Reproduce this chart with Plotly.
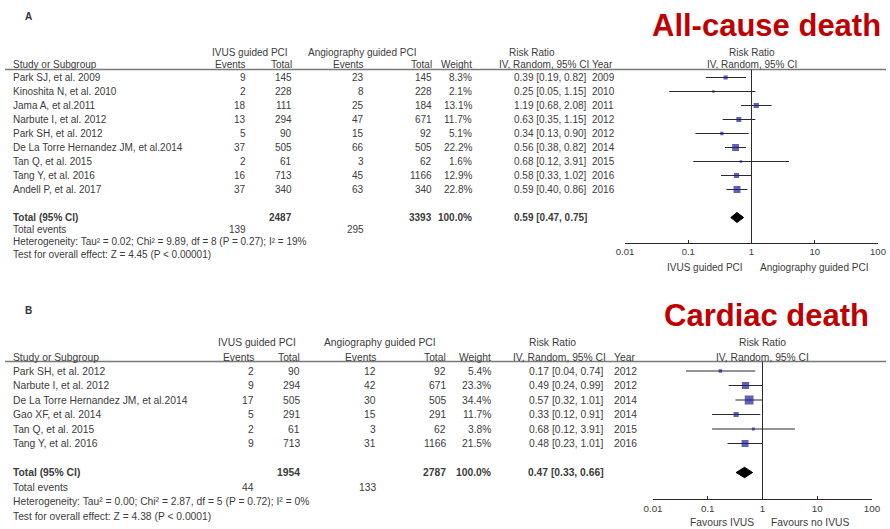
import plotly.graph_objects as go

W, H = 890, 529
FONT = "Liberation Sans, Arial, sans-serif"
TXT = "#3c3c3c"

# ---------------- Panel A: all-cause death ----------------
a_studies = ["Park SJ, et al. 2009", "Kinoshita N, et al. 2010", "Jama A, et al.2011",
             "Narbute I, et al. 2012", "Park SH, et al. 2012",
             "De La Torre Hernandez JM, et al.2014", "Tan Q, et al. 2015",
             "Tang Y, et al. 2016", "Andell P, et al. 2017"]
a_ivus_events = [9, 2, 18, 13, 5, 37, 2, 16, 37]
a_ivus_total = [145, 228, 111, 294, 90, 505, 61, 713, 340]
a_angio_events = [23, 8, 25, 47, 15, 66, 3, 45, 63]
a_angio_total = [145, 228, 184, 671, 92, 505, 62, 1166, 340]
a_weight = [8.3, 2.1, 13.1, 11.7, 5.1, 22.2, 1.6, 12.9, 22.8]
a_rr = [0.39, 0.25, 1.19, 0.63, 0.34, 0.56, 0.68, 0.58, 0.59]
a_lo = [0.19, 0.05, 0.68, 0.35, 0.13, 0.38, 0.12, 0.33, 0.40]
a_hi = [0.82, 1.15, 2.08, 1.15, 0.90, 0.82, 3.91, 1.02, 0.86]
a_year = [2009, 2010, 2011, 2012, 2012, 2014, 2015, 2016, 2016]
a_pooled = [0.59, 0.47, 0.75]
a_het = "Heterogeneity: Tau² = 0.02; Chi² = 9.89, df = 8 (P = 0.27); I² = 19%"
a_test = "Test for overall effect: Z = 4.45 (P < 0.00001)"

# ---------------- Panel B: cardiac death ----------------
b_studies = ["Park SH, et al. 2012", "Narbute I, et al. 2012",
             "De La Torre Hernandez JM, et al.2014", "Gao XF, et al. 2014",
             "Tan Q, et al. 2015", "Tang Y, et al. 2016"]
b_ivus_events = [2, 9, 17, 5, 2, 9]
b_ivus_total = [90, 294, 505, 291, 61, 713]
b_angio_events = [12, 42, 30, 15, 3, 31]
b_angio_total = [92, 671, 505, 291, 62, 1166]
b_weight = [5.4, 23.3, 34.4, 11.7, 3.8, 21.5]
b_rr = [0.17, 0.49, 0.57, 0.33, 0.68, 0.48]
b_lo = [0.04, 0.24, 0.32, 0.12, 0.12, 0.23]
b_hi = [0.74, 0.99, 1.01, 0.91, 3.91, 1.01]
b_year = [2012, 2012, 2014, 2014, 2015, 2016]
b_pooled = [0.47, 0.33, 0.66]
b_het = "Heterogeneity: Tau² = 0.00; Chi² = 2.87, df = 5 (P = 0.72); I² = 0%"
b_test = "Test for overall effect: Z = 4.38 (P < 0.0001)"

tick_vals = [0.01, 0.1, 1, 10, 100]
tick_text = ["0.01", "0.1", "1", "10", "100"]

panels = [
    dict(tag="A", title="All-cause death", title_pos=(882, 25), tag_pos=(28, 17),
         studies=a_studies, ie=a_ivus_events, it=a_ivus_total, ae=a_angio_events,
         at=a_angio_total, w=a_weight, rr=a_rr, lo=a_lo, hi=a_hi, year=a_year,
         pooled=a_pooled, het=a_het, test=a_test,
         left_lab="IVUS guided PCI", right_lab="Angiography guided PCI",
         first=77.5, pitch=14.0, hdr1=52, hdr2=64.5, rule=69.5, axis_y=242.5,
         foot=[229.5, 242, 254.5], lab_y=267, px0=625, px1=878, fs=10,
         cols=dict(study=12, ie=247, it=293, ae=365, at=433, w=473, ci=588, year=591),
         grp=dict(ivus=250, angio=362, rr=532), sq=1.45),
    dict(tag="B", title="Cardiac death", title_pos=(870, 315), tag_pos=(28, 310),
         studies=b_studies, ie=b_ivus_events, it=b_ivus_total, ae=b_angio_events,
         at=b_angio_total, w=b_weight, rr=b_rr, lo=b_lo, hi=b_hi, year=b_year,
         pooled=b_pooled, het=b_het, test=b_test,
         left_lab="Favours IVUS", right_lab="Favours no IVUS",
         first=371.0, pitch=14.5, hdr1=342, hdr2=357, rule=361.5, axis_y=499,
         foot=[487, 501, 516], lab_y=522, px0=653, px1=872, fs=10.3,
         cols=dict(study=12, ie=255, it=301, ae=377, at=447, w=492, ci=605, year=613),
         grp=dict(ivus=257, angio=380, rr=552), sq=1.5),
]


def px(x):
    return x / W


def py(y):
    return 1 - y / H


fig = go.Figure()
annotations = []
shapes = []


def text(x, y, s, anchor="left", size=10.0, color=TXT, bold=False):
    annotations.append(dict(
        x=px(x), y=py(y), xref="paper", yref="paper", text=f"<b>{s}</b>" if bold else s,
        showarrow=False, xanchor=anchor, yanchor="middle", borderpad=0,
        font=dict(family=FONT, size=size, color=color)))


for k, p in enumerate(panels):
    sfx = "" if k == 0 else str(k + 1)
    xa, ya = "x" + sfx, "y" + sfx
    n = len(p["studies"])
    c, fs = p["cols"], p["fs"]
    row_px = [p["first"] + i * p["pitch"] for i in range(n)]
    tot_idx = n + 1
    tot_px = p["first"] + tot_idx * p["pitch"]

    # headers
    text(p["tag_pos"][0], p["tag_pos"][1], p["tag"], "center", 10, "#333", bold=True)
    text(p["title_pos"][0], p["title_pos"][1], p["title"], "right", 31, "#c00000", bold=True)
    text(p["grp"]["ivus"], p["hdr1"], "IVUS guided PCI", "center", fs)
    text(p["grp"]["angio"], p["hdr1"], "Angiography guided PCI", "center", fs)
    text(p["grp"]["rr"], p["hdr1"], "Risk Ratio", "center", fs)
    ctr = (p["px0"] + p["px1"]) / 2
    text(ctr, p["hdr1"], "Risk Ratio", "center", fs)
    text(c["study"], p["hdr2"], "Study or Subgroup", "left", fs)
    text(c["ie"], p["hdr2"], "Events", "right", fs)
    text(c["it"], p["hdr2"], "Total", "right", fs)
    text(c["ae"], p["hdr2"], "Events", "right", fs)
    text(c["at"], p["hdr2"], "Total", "right", fs)
    text(c["w"], p["hdr2"], "Weight", "right", fs)
    text(c["ci"] + 2, p["hdr2"], "IV, Random, 95% CI", "right", fs)
    text(c["year"], p["hdr2"], "Year", "left", fs)
    text(ctr, p["hdr2"], "IV, Random, 95% CI", "center", fs)
    shapes.append(dict(type="line", xref="paper", yref="paper", x0=px(5), x1=px(886),
                       y0=py(p["rule"]), y1=py(p["rule"]), line=dict(color="#7a7a7a", width=1.5)))

    # study rows
    for i in range(n):
        y = row_px[i]
        text(c["study"], y, p["studies"][i], "left", fs)
        text(c["ie"], y, str(p["ie"][i]), "right", fs)
        text(c["it"], y, str(p["it"][i]), "right", fs)
        text(c["ae"], y, str(p["ae"][i]), "right", fs)
        text(c["at"], y, str(p["at"][i]), "right", fs)
        text(c["w"], y, f"{p['w'][i]:.1f}%", "right", fs)
        text(c["ci"], y, f"{p['rr'][i]:.2f} [{p['lo'][i]:.2f}, {p['hi'][i]:.2f}]", "right", fs)
        text(c["year"], y, str(p["year"][i]), "left", fs)

    # pooled and footer rows
    est, plo, phi = p["pooled"]
    text(c["study"], tot_px, "Total (95% CI)", "left", fs, bold=True)
    text(c["it"], tot_px, str(sum(p["it"])), "right", fs, bold=True)
    text(c["at"], tot_px, str(sum(p["at"])), "right", fs, bold=True)
    text(c["w"], tot_px, "100.0%", "right", fs, bold=True)
    text(c["ci"], tot_px, f"{est:.2f} [{plo:.2f}, {phi:.2f}]", "right", fs, bold=True)
    text(c["study"], p["foot"][0], "Total events", "left", fs)
    text(c["ie"], p["foot"][0], str(sum(p["ie"])), "right", fs)
    text(c["ae"], p["foot"][0], str(sum(p["ae"])), "right", fs)
    text(c["study"], p["foot"][1], p["het"], "left", fs)
    text(c["study"], p["foot"][2], p["test"], "left", fs)

    # favours labels
    mid = p["px0"] + (p["px1"] - p["px0"]) / 2
    text(mid - 8, p["lab_y"], p["left_lab"], "right", fs)
    text(mid + 7, p["lab_y"], p["right_lab"], "left", fs)

    # confidence intervals
    cx, cy = [], []
    for i in range(n):
        cx += [p["lo"][i], p["hi"][i], None]
        cy += [i, i, None]
    fig.add_trace(go.Scatter(x=cx, y=cy, mode="lines", xaxis=xa, yaxis=ya,
                             line=dict(color="#2a2a2a", width=1), hoverinfo="skip",
                             showlegend=False))
    # weighted squares
    fig.add_trace(go.Scatter(x=p["rr"], y=list(range(n)), mode="markers", xaxis=xa, yaxis=ya,
                             marker=dict(symbol="square", color="#1e1e9a",
                                         size=[max(2.5, p["sq"] * w ** 0.5) for w in p["w"]],
                                         line=dict(width=0)),
                             showlegend=False))
    # pooled diamond
    hh = 0.36
    fig.add_trace(go.Scatter(x=[plo, est, phi, est, plo],
                             y=[tot_idx, tot_idx - hh, tot_idx, tot_idx + hh, tot_idx],
                             mode="lines", fill="toself", fillcolor="black", xaxis=xa, yaxis=ya,
                             line=dict(color="black", width=1), showlegend=False))

    # line of no effect
    shapes.append(dict(type="line", xref=xa, yref=f"{ya} domain", x0=1, x1=1, y0=0, y1=1,
                       line=dict(color="#2a2a2a", width=1)))

    y_lo = (p["axis_y"] - p["first"]) / p["pitch"]
    y_hi = (p["rule"] - p["first"]) / p["pitch"]
    fig.update_layout(**{
        f"xaxis{sfx}": dict(type="log", range=[-2, 2], domain=[px(p["px0"]), px(p["px1"])],
                            anchor=ya, tickvals=tick_vals, ticktext=tick_text,
                            showline=True, linecolor="#2a2a2a", linewidth=1,
                            ticks="inside", ticklen=3, tickcolor="#2a2a2a",
                            showgrid=False, zeroline=False, automargin=False,
                            tickfont=dict(family=FONT, size=fs - 0.5, color=TXT)),
        f"yaxis{sfx}": dict(range=[y_lo, y_hi], domain=[py(p["axis_y"]), py(p["rule"])],
                            anchor=xa, visible=False, showgrid=False, zeroline=False,
                            automargin=False),
    })

fig.update_layout(width=W, height=H,
                  margin=dict(l=0, r=0, t=0, b=0, pad=0, autoexpand=False),
                  paper_bgcolor="white", plot_bgcolor="white",
                  annotations=annotations, shapes=shapes, showlegend=False)

fig.write_html("out.html")
